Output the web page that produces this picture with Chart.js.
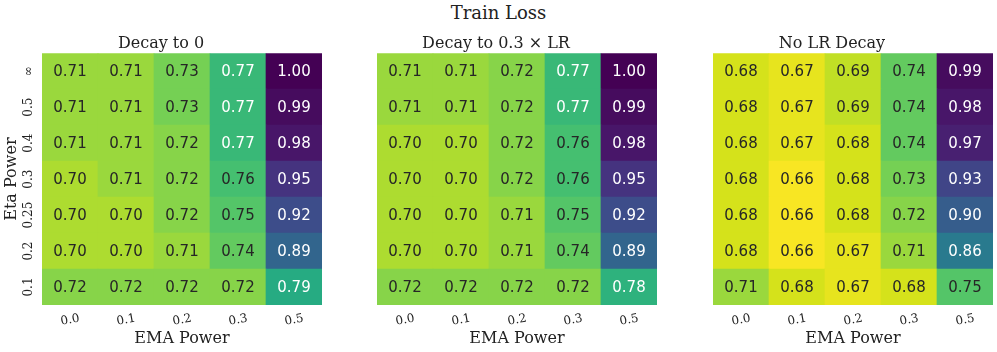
<!DOCTYPE html>
<html>
<head>
<meta charset="utf-8">
<script src="https://cdn.jsdelivr.net/npm/chart.js@4/dist/chart.umd.min.js"></script>
<style>
  body { margin: 0; background: #fff; width: 997px; height: 352px; position: relative; overflow: hidden; }
  #suptitle { position: absolute; left: 0; top: 2px; width: 997px; text-align: center;
    font-family: 'DejaVu Serif'; font-size: 18px; color: #222; }
  .box { position: absolute; top: 28px; width: 322px; height: 324px; }
</style>
</head>
<body>
<div id="suptitle">Train Loss</div>
<div class="box" style="left:0px"><canvas id="c1" width="322" height="324"></canvas></div>
<div class="box" style="left:335px"><canvas id="c2" width="322" height="324"></canvas></div>
<div class="box" style="left:671px"><canvas id="c3" width="322" height="324"></canvas></div>
<script>
// ---- data
const emaPower = ['0.0', '0.1', '0.2', '0.3', '0.5']
// rows from top to bottom
const etaPower = ['∞', '0.5', '0.4', '0.3', '0.25', '0.2', '0.1']
const panelTitles = ['Decay to 0', 'Decay to 0.3 × LR', 'No LR Decay']

const decayTo0 = [
  [0.71, 0.71, 0.73, 0.77, 1.00],
  [0.71, 0.71, 0.73, 0.77, 0.99],
  [0.71, 0.71, 0.72, 0.77, 0.98],
  [0.70, 0.71, 0.72, 0.76, 0.95],
  [0.70, 0.70, 0.72, 0.75, 0.92],
  [0.70, 0.70, 0.71, 0.74, 0.89],
  [0.72, 0.72, 0.72, 0.72, 0.79]
]
const decayTo03 = [
  [0.71, 0.71, 0.72, 0.77, 1.00],
  [0.71, 0.71, 0.72, 0.77, 0.99],
  [0.70, 0.70, 0.72, 0.76, 0.98],
  [0.70, 0.70, 0.72, 0.76, 0.95],
  [0.70, 0.70, 0.71, 0.75, 0.92],
  [0.70, 0.70, 0.71, 0.74, 0.89],
  [0.72, 0.72, 0.72, 0.72, 0.78]
]
const noDecay = [
  [0.68, 0.67, 0.69, 0.74, 0.99],
  [0.68, 0.67, 0.69, 0.74, 0.98],
  [0.68, 0.67, 0.68, 0.74, 0.97],
  [0.68, 0.66, 0.68, 0.73, 0.93],
  [0.68, 0.66, 0.68, 0.72, 0.90],
  [0.68, 0.66, 0.67, 0.71, 0.86],
  [0.71, 0.68, 0.67, 0.68, 0.75]
]

const vmin = 0.657, vmax = 1.00

// ---- viridis colormap
const viridis = ['#440154', '#48186a', '#472d7b', '#424086', '#3b528b', '#33638d', '#2c728e', '#26828e',
  '#21918c', '#1fa088', '#28ae80', '#3fbc73', '#5ec962', '#84d44b', '#addc30', '#d8e219', '#fde725']

function hexRgb(h) {
  return [parseInt(h.slice(1, 3), 16), parseInt(h.slice(3, 5), 16), parseInt(h.slice(5, 7), 16)]
}
function cmap(t) {
  t = Math.max(0, Math.min(1, t))
  let p = t * (viridis.length - 1)
  let i = Math.min(Math.floor(p), viridis.length - 2)
  let f = p - i
  let a = hexRgb(viridis[i]), b = hexRgb(viridis[i + 1])
  return a.map((c, k) => Math.round(c + (b[k] - c) * f))
}
// high loss = dark
function cellRgb(v) { return cmap((vmax - v) / (vmax - vmin)) }
function rgbStr(c) { return 'rgb(' + c.join(',') + ')' }
function lum(c) {
  let l = c.map(x => { x /= 255; return x <= 0.03928 ? x / 12.92 : Math.pow((x + 0.055) / 1.055, 2.4) })
  return 0.2126 * l[0] + 0.7152 * l[1] + 0.0722 * l[2]
}

// ---- plugin: cell numbers + tick labels
const heatText = {
  id: 'heatText',
  afterDatasetsDraw(chart) {
    const ctx = chart.ctx
    ctx.save()
    ctx.font = '15px "DejaVu Sans"'
    ctx.textAlign = 'center'
    ctx.textBaseline = 'middle'
    chart.data.datasets.forEach((ds, di) => {
      chart.getDatasetMeta(di).data.forEach((bar, j) => {
        let v = ds.loss[j]
        ctx.fillStyle = lum(cellRgb(v)) > 0.38 ? '#262626' : '#ffffff'
        ctx.fillText(v.toFixed(2), bar.x, (bar.y + bar.base) / 2 + 1)
      })
    })
    ctx.restore()
  },
  afterDraw(chart) {
    const ctx = chart.ctx
    const xs = chart.scales.x, ys = chart.scales.y, area = chart.chartArea
    ctx.save()
    ctx.font = '12px "DejaVu Serif"'
    ctx.fillStyle = '#222'
    ctx.textAlign = 'center'
    ctx.textBaseline = 'middle'
    emaPower.forEach((lab, i) => {
      ctx.save()
      ctx.translate(xs.getPixelForValue(i), area.bottom + 15)
      ctx.rotate(-10 * Math.PI / 180)
      ctx.fillText(lab, 0, 0)
      ctx.restore()
    })
    if (chart.options.showEta) {
      const bottomUp = etaPower.slice().reverse()
      bottomUp.forEach((lab, i) => {
        ctx.save()
        ctx.translate(area.left - 13, ys.getPixelForValue(i + 0.5))
        ctx.rotate(-Math.PI / 2)
        ctx.fillText(lab, 0, 0)
        ctx.restore()
      })
    }
    ctx.restore()
  }
}

function makePanel(id, title, rows, showEta) {
  const bottomUp = rows.slice().reverse()
  const datasets = bottomUp.map((row, i) => ({
    label: etaPower[etaPower.length - 1 - i],
    data: row.map(() => 1),
    loss: row,
    backgroundColor: row.map(v => rgbStr(cellRgb(v))),
    borderWidth: 0,
    barPercentage: 1,
    categoryPercentage: 1
  }))
  new Chart(document.getElementById(id), {
    type: 'bar',
    data: { labels: emaPower, datasets: datasets },
    plugins: [heatText],
    options: {
      responsive: false,
      animation: false,
      devicePixelRatio: 1,
      showEta: showEta,
      layout: { padding: 0 },
      plugins: {
        legend: { display: false },
        tooltip: { enabled: false },
        title: {
          display: true, text: title, color: '#222',
          font: { family: 'DejaVu Serif', size: 16, weight: 'normal' },
          padding: { top: 6, bottom: 0 }
        }
      },
      scales: {
        x: {
          stacked: true,
          grid: { display: false }, border: { display: false },
          ticks: { display: false },
          title: { display: true, text: 'EMA Power', color: '#222',
            font: { family: 'DejaVu Serif', size: 16 }, padding: { top: 0, bottom: 4 } },
          afterFit: s => { s.height = 47 }
        },
        y: {
          stacked: true, min: 0, max: 7,
          grid: { display: false }, border: { display: false },
          ticks: { display: false },
          title: { display: showEta, text: 'Eta Power', color: '#222',
            font: { family: 'DejaVu Serif', size: 16 }, padding: { top: 2, bottom: 0 } },
          afterFit: s => { s.width = 42 }
        }
      }
    }
  })
}

makePanel('c1', panelTitles[0], decayTo0, true)
makePanel('c2', panelTitles[1], decayTo03, false)
makePanel('c3', panelTitles[2], noDecay, false)
</script>
</body>
</html>
